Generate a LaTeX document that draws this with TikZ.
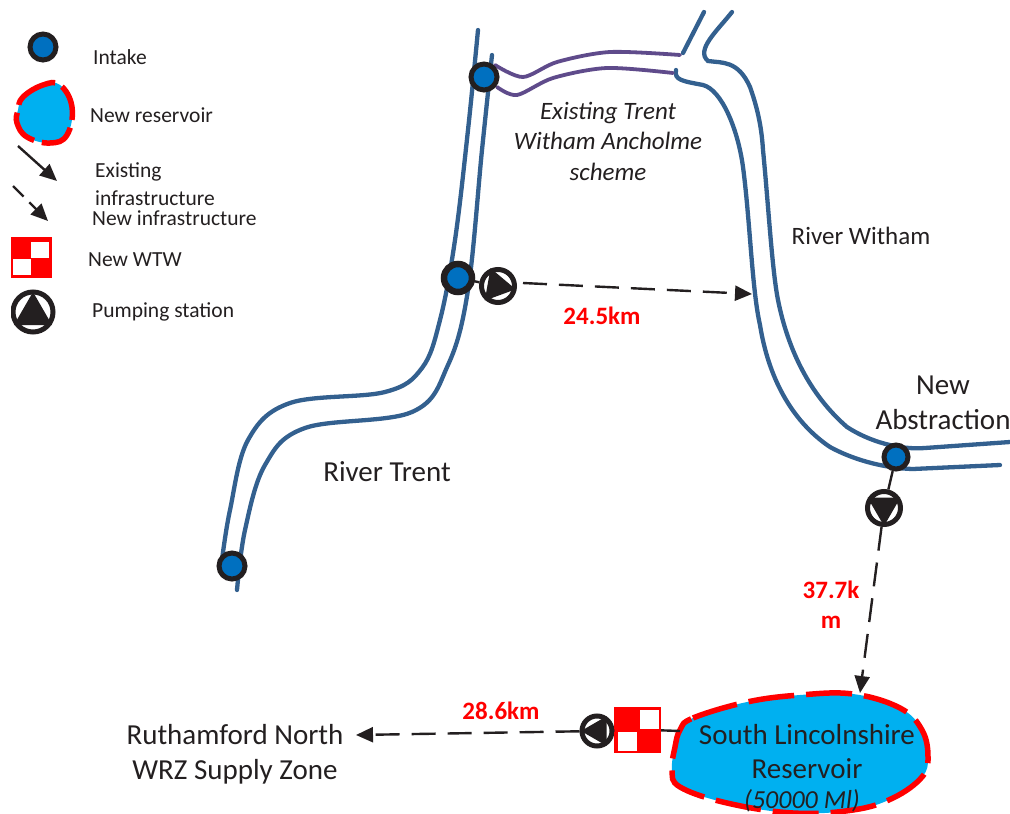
\documentclass[tikz,border=0pt]{standalone}
\usepackage{fontspec}
\setmainfont{Carlito}
\usetikzlibrary{arrows.meta, shapes.geometric}
\definecolor{riverblue}{HTML}{33608F}
\definecolor{intakeblue}{HTML}{0070C0}
\definecolor{schemepurple}{HTML}{5F4B8B}
\definecolor{lakeblue}{HTML}{00B0F0}
\definecolor{inkgrey}{HTML}{231F20}
\tikzset{
	x=1pt, y=-1pt, % coordinates are the pixels of the drawing
	>={Triangle[length=17pt,width=15pt]}, % makes the arrow heads bold
	river/.style={draw=riverblue, line width=4.3pt, line cap=round},
	scheme/.style={draw=schemepurple, line width=3.8pt, line cap=round},
	lake/.style={fill=lakeblue, draw=red, line width=5.5pt, dash pattern=on 46pt off 12pt},
	intake/.style={circle, draw=inkgrey, fill=intakeblue, line width=5pt, inner sep=0pt, minimum size=26pt},
	pumpring/.style={circle, draw=inkgrey, fill=white, line width=5pt, inner sep=0pt, minimum size=33pt},
	pumptri/.style={regular polygon, regular polygon sides=3, fill=inkgrey, inner sep=0pt, outer sep=0pt, minimum size=38pt},
	wtwsquare/.style={fill=white, inner sep=0pt, minimum size=19pt},
	newline/.style={->, draw=inkgrey, line width=2.4pt, dash pattern=on 24pt off 12pt},
	oldline/.style={->, draw=inkgrey, line width=2.4pt},
	link/.style={draw=inkgrey, line width=2.4pt},
	keytext/.style={anchor=west, inner sep=0pt, text=inkgrey, font=\fontsize{21.5}{26}\selectfont},
	maptext/.style={text=inkgrey, align=center, font=\fontsize{29}{35}\selectfont},
	schemetext/.style={text=inkgrey, align=center, font=\itshape\fontsize{25}{30.5}\selectfont},
	kmtext/.style={text=red, align=center, font=\bfseries\fontsize{25}{30}\selectfont},
}
\begin{document}
\begin{tikzpicture}
	\useasboundingbox (0,0) rectangle (1010,814);
	% rivers
	\draw[river] plot[smooth, tension=0.6] coordinates {(478,30) (468,130) (455,240) (440,320) (422,368) (385,392) (290,403) (248,440) (230,510) (222,560)};
	\draw[river] plot[smooth, tension=0.6] coordinates {(492,55) (482,150) (468,290) (448,365) (412,412) (305,428) (265,465) (245,530) (237,590)};
	\draw[river] (732,12) .. controls (718,30) and (695,50) .. (708,61) .. controls (722,63) and (738,60) .. (750,87) .. controls (760,115) and (762,135) .. (763,150) .. controls (768,200) and (772,270) .. (778,300) .. controls (788,350) and (810,395) .. (847,427) .. controls (870,442) and (900,450) .. (925,448) -- (1010,442);
	\draw[river] (704,12) -- (683,53);
	\draw[river] (676,70) .. controls (674,80) and (682,81) .. (703,85) .. controls (722,90) and (738,130) .. (743,167) .. controls (750,220) and (752,290) .. (760,325) .. controls (768,375) and (790,420) .. (830,447) .. controls (850,458) and (880,468) .. (913,469) -- (1000,465);
	% existing scheme
	\draw[scheme] plot[smooth, tension=0.5] coordinates {(495,65) (523,77) (557,62) (610,52) (680,55)};
	\draw[scheme] plot[smooth, tension=0.5] coordinates {(497,87) (517,95) (553,78) (607,68) (673,73)};
	% key
	\node[intake] at (43,47) (keyintake) {};
	\node[keytext] at (93,57) (keyintaketext) {Intake};
	\draw[lake, dash pattern=on 36pt off 8pt] plot[smooth cycle, tension=0.7] coordinates {(18,110) (23,97) (43,85) (60,85) (72,107) (67,135) (50,143) (27,137) (17,123)};
	\node[keytext] at (90,115) (keylaketext) {New reservoir};
	\coordinate (keyolda) at (18,146);
	\coordinate (keyoldb) at (57,181);
	\coordinate (keynewa) at (13,186);
	\coordinate (keynewb) at (48,221);
	\draw[oldline] (keyolda) -- (keyoldb);
	\draw[newline, dash pattern=on 15pt off 8pt] (keynewa) -- (keynewb);
	\node[keytext] at (95,172) (keyoldtext) {Existing};
	\node[keytext] at (95,198) (keyoldtextb) {infrastructure};
	\node[keytext] at (92,218) (keynewtext) {New infrastructure};
	\node[fill=red, inner sep=0pt, minimum size=41pt] at (31.5,257.5) (keywtw) {};
	\node[wtwsquare, minimum width=18pt, minimum height=16pt] at (39.5,249.5) (keywtwa) {};
	\node[wtwsquare, minimum width=18pt, minimum height=16pt] at (21.5,267) (keywtwb) {};
	\node[keytext] at (88,260) (keywtwtext) {New WTW};
	\begin{scope}
		\clip (11,280) rectangle (60,340);
		\node[pumpring, minimum size=40pt] at (33,312) (keypump) {};
		\node[pumptri, minimum size=44pt] at (33,314) (keypumptri) {};
	\end{scope}
	\node[keytext] at (92,312) (keypumptext) {Pumping station};
	% intakes
	\node[intake] at (484,77) (intaketop) {};
	\node[intake, line width=6.5pt, minimum size=28pt] at (458,278) (intakemid) {};
	\node[intake] at (232,566) (intakelow) {};
	\node[intake, minimum size=24pt] at (896,457) (intakenew) {};
	% pumps and works
	\node[pumpring] at (498,286) (pumpmid) {};
	\node[pumptri, rotate=-100] at (497,286) (pumpmidtri) {};
	\node[pumpring] at (884,508) (pumpnew) {};
	\node[pumptri, rotate=180] at (884,507) (pumpnewtri) {};
	\node[pumpring, minimum size=30pt] at (597,731) (pumpout) {};
	\node[pumptri, rotate=90, minimum size=34pt] at (598,731) (pumpouttri) {};
	\node[fill=red, inner sep=0pt, minimum width=47pt, minimum height=46pt] at (637.5,729.5) (wtw) {};
	\node[wtwsquare] at (649,719) (wtwa) {};
	\node[wtwsquare] at (627,741) (wtwb) {};
	% reservoir
	\draw[lake] plot[smooth cycle, tension=0.65] coordinates {(680,730) (693,718) (747,702) (800,695) (853,694) (900,708) (922,730) (928,757) (922,777) (893,798) (853,810) (793,813) (727,803) (680,787) (672,770) (675,747)};
	% pipelines
	\coordinate (witham) at (752,294);
	\coordinate (restop) at (860,693);
	\coordinate (resleft) at (680,731);
	\coordinate (ruthamford) at (356,735);
	\draw[link] (intakemid) -- (pumpmid);
	\draw[newline] (pumpmid) ++(25,-3) coordinate (pumpmidout) (pumpmidout) -- (witham);
	\draw[link] (intakenew) -- (pumpnew);
	\draw[newline] (pumpnew) -- (restop);
	\draw[link] (wtw) -- (pumpout);
	\draw[link] (wtw) -- (resleft);
	\draw[newline] (pumpout) -- (ruthamford);
	% labels
	\node[maptext] at (387,472) (trent) {River Trent};
	\node[maptext, font=\fontsize{25}{30}\selectfont] at (861,236) (withamtext) {River Witham};
	\node[maptext] at (943,403) (abstraction) {New\\Abstraction};
	\node[schemetext] at (608,141) (schemetext) {Existing Trent\\Witham Ancholme\\scheme};
	\node[maptext] at (235,754) (ruthamfordtext) {Ruthamford North\\WRZ Supply Zone};
	\node[maptext, font=\fontsize{29}{34}\selectfont] at (807,752) (restext) {South Lincolnshire\\Reservoir};
	\node[maptext, font=\itshape\fontsize{26}{29}\selectfont] at (802,801) (resvol) {(50000 Ml)};
	\node[kmtext] at (602,316) (kmone) {24.5km};
	\node[kmtext] at (831,605) (kmtwo) {37.7k\\m};
	\node[kmtext] at (501,711) (kmthree) {28.6km};
\end{tikzpicture}
\end{document}
